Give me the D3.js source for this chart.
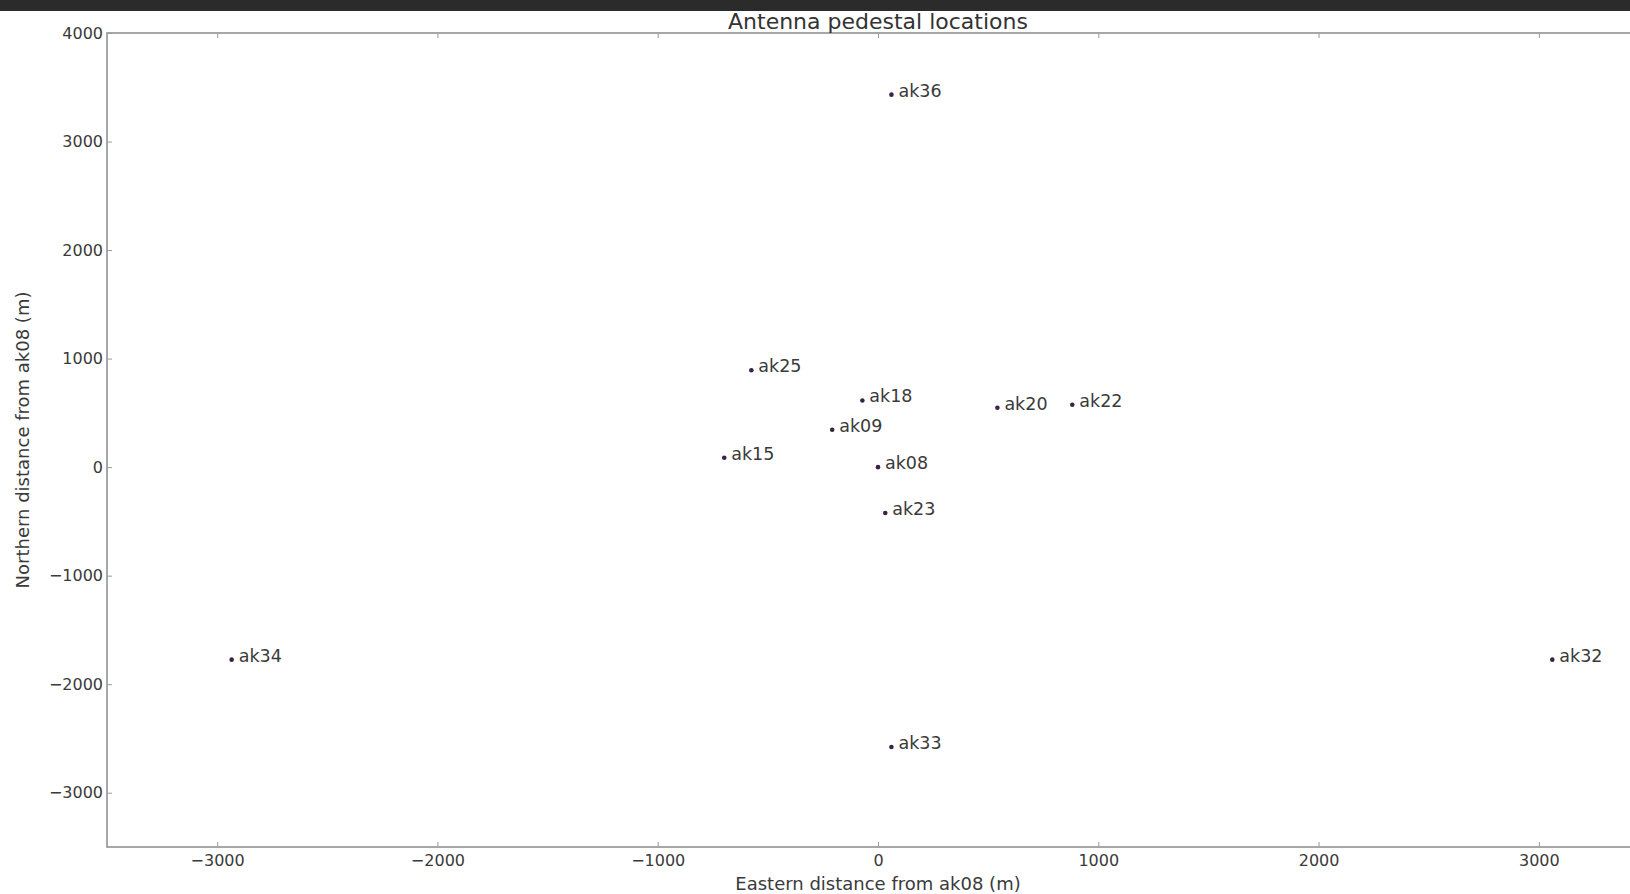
<!DOCTYPE html>
<html>
<head>
<meta charset="utf-8">
<script src="https://cdn.jsdelivr.net/npm/d3@7"></script>
<style>
  body { margin: 0; background: #ffffff; }
  svg { display: block; font-family: "DejaVu Sans", sans-serif; }
</style>
</head>
<body>
<div class="chart"></div>
<script>
// antenna names and positions relative to ak08 (metres)
var names = ["ak36", "ak25", "ak18", "ak20", "ak22", "ak09", "ak15", "ak08", "ak23", "ak34", "ak32", "ak33"];
var east  = [61, -575, -71, 542, 882, -208, -698, 0, 33, -2934, 3061, 61];
var north = [3432, 892, 614, 547, 575, 345, 86, 0, -422, -1774, -1774, -2579];

var xTicks = [-3000, -2000, -1000, 0, 1000, 2000, 3000];
var yTicks = [-3000, -2000, -1000, 0, 1000, 2000, 3000, 4000];

var svgWidth = 1630;
var svgHeight = 894;

var margin = { top: 33, left: 107 };
var plotRight = 1649;   // the axes run past the edge of the window
var plotBottom = 847;

var pts = names.map(function(n, i) {
  return { name: n, e: east[i], n: north[i] };
});

var svg = d3.select(".chart")
  .append("svg")
    .attr("width", svgWidth)
    .attr("height", svgHeight);

// dark strip across the top
svg.append("rect")
  .attr("x", 0).attr("y", 0)
  .attr("width", svgWidth).attr("height", 11)
  .attr("fill", "#2b2b2b");

var x = d3.scaleLinear().domain([-3500, 3500]).range([margin.left, plotRight]);
var y = d3.scaleLinear().domain([-3500, 4000]).range([plotBottom, margin.top]);

var fmt = function(d) { return d < 0 ? "\u2212" + Math.abs(d) : String(d); };

// frame
svg.append("rect")
  .attr("x", margin.left).attr("y", margin.top)
  .attr("width", plotRight - margin.left)
  .attr("height", plotBottom - margin.top)
  .attr("fill", "none")
  .attr("stroke", "#8a8a8a")
  .attr("stroke-width", 1.5);

// inward ticks, matplotlib classic look
var xAxisB = d3.axisBottom(x).tickValues(xTicks).tickSize(-5).tickPadding(8).tickFormat(fmt);
var xAxisT = d3.axisTop(x).tickValues(xTicks).tickSize(-5).tickFormat("");
var yAxisL = d3.axisLeft(y).tickValues(yTicks).tickSize(-5).tickPadding(4).tickFormat(fmt);

function styleAxis(g) {
  g.select(".domain").remove();
  g.selectAll(".tick line").attr("stroke", "#9a9a9a");
  g.selectAll(".tick text")
    .attr("fill", "#3a3a3a")
    .style("font-size", "16px")
    .style("font-family", "DejaVu Sans, sans-serif");
}

svg.append("g")
  .attr("transform", "translate(0," + plotBottom + ")")
  .call(xAxisB)
  .call(styleAxis);

svg.append("g")
  .attr("transform", "translate(0," + margin.top + ")")
  .call(xAxisT)
  .call(styleAxis);

svg.append("g")
  .attr("transform", "translate(" + margin.left + ",0)")
  .call(yAxisL)
  .call(styleAxis);

// points
svg.selectAll("circle.pt")
  .data(pts)
  .enter().append("circle")
    .attr("class", "pt")
    .attr("cx", function(d) { return x(d.e); })
    .attr("cy", function(d) { return y(d.n); })
    .attr("r", 2.3)
    .attr("fill", "#3a2346");

svg.selectAll("text.lbl")
  .data(pts)
  .enter().append("text")
    .attr("class", "lbl")
    .attr("x", function(d) { return x(d.e) + 7; })
    .attr("y", function(d) { return y(d.n) + 2; })
    .attr("fill", "#3a3a3a")
    .style("font-size", "17.5px")
    .text(function(d) { return d.name; });

// title and axis labels
svg.append("text")
  .attr("x", (margin.left + plotRight) / 2)
  .attr("y", 29)
  .attr("text-anchor", "middle")
  .attr("fill", "#333")
  .style("font-size", "22px")
  .text("Antenna pedestal locations");

svg.append("text")
  .attr("x", (margin.left + plotRight) / 2)
  .attr("y", 890)
  .attr("text-anchor", "middle")
  .attr("fill", "#3a3a3a")
  .style("font-size", "18px")
  .text("Eastern distance from ak08 (m)");

svg.append("text")
  .attr("transform", "translate(29," + ((margin.top + plotBottom) / 2) + ") rotate(-90)")
  .attr("text-anchor", "middle")
  .attr("fill", "#3a3a3a")
  .style("font-size", "18px")
  .text("Northern distance from ak08 (m)");
</script>
</body>
</html>
